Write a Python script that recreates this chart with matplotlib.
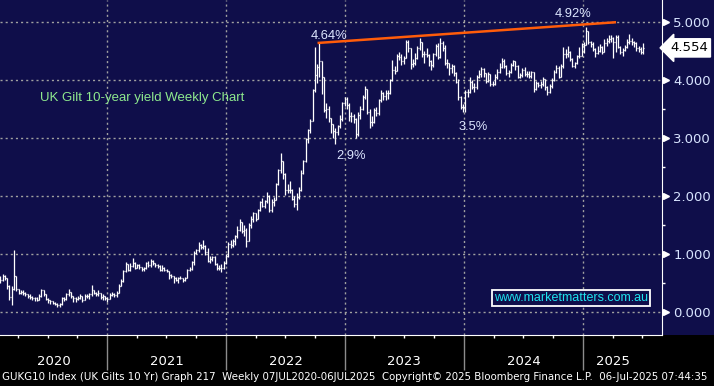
import numpy as np
import pandas as pd
import matplotlib
matplotlib.use('Agg')
import matplotlib.pyplot as plt
import matplotlib.dates as mdates
import matplotlib.transforms as mtransforms
from matplotlib.collections import LineCollection
from matplotlib.patches import Rectangle

# GUKG10 weekly bars (close / high / low), first bar week ending 07-Feb-2020
c20 = [0.55,0.62,0.58,0.45, 0.25,0.40,0.62,0.40, 0.33,0.35,0.32,0.30, 0.27,0.25,0.24,0.23,0.21,
       0.28,0.37,0.30,0.22, 0.20,0.18,0.15,0.14,0.12, 0.13,0.24,0.22,0.31, 0.35,0.28,0.24,0.22,
       0.24,0.27,0.20,0.28,0.27, 0.30,0.38,0.33,0.30, 0.33,0.26,0.27,0.24]
h20 = [0.62,0.66,0.64,0.58, 0.46,0.45,1.07,0.62, 0.40,0.38,0.37,0.34, 0.31,0.30,0.28,0.26,0.25,
       0.31,0.40,0.37,0.30, 0.23,0.21,0.19,0.17,0.15, 0.16,0.26,0.26,0.33, 0.40,0.34,0.28,0.25,
       0.27,0.30,0.27,0.31,0.30, 0.33,0.47,0.38,0.34, 0.37,0.33,0.30,0.28]
l20 = [0.50,0.54,0.55,0.40, 0.20,0.12,0.38,0.36, 0.30,0.30,0.29,0.27, 0.24,0.22,0.21,0.19,0.18,
       0.20,0.26,0.27,0.20, 0.16,0.14,0.13,0.11,0.09, 0.08,0.12,0.19,0.21, 0.28,0.24,0.17,0.17,
       0.20,0.22,0.17,0.20,0.24, 0.22,0.28,0.30,0.27, 0.28,0.22,0.21,0.20]

c21 = [0.22,0.29,0.30,0.29,0.33, 0.45,0.53,0.71,0.82, 0.73,0.79,0.85,0.76, 0.80,0.77,0.74,0.75,0.84,
       0.80,0.88,0.84,0.80, 0.79,0.73,0.75,0.72, 0.70,0.63,0.62,0.58,0.55, 0.58,0.58,0.55,0.58,
       0.72,0.74,0.86,1.02, 1.06,1.15,1.12,1.14,1.03, 0.88,0.91,0.95,0.82, 0.76,0.75,0.76,0.85,0.97]
h21 = [0.26,0.33,0.35,0.33,0.36, 0.48,0.57,0.72,0.86, 0.83,0.84,0.93,0.86, 0.82,0.82,0.77,0.78,0.86,
       0.87,0.91,0.90,0.85, 0.83,0.80,0.81,0.77, 0.74,0.71,0.66,0.62,0.60, 0.60,0.62,0.59,0.60,
       0.74,0.77,0.88,1.05, 1.09,1.20,1.17,1.24,1.15, 1.10,0.97,0.97,0.96, 0.84,0.80,0.82,0.88,0.99]
l21 = [0.17,0.22,0.27,0.25,0.26, 0.33,0.44,0.52,0.68, 0.70,0.70,0.78,0.74, 0.75,0.74,0.71,0.70,0.74,
       0.78,0.78,0.80,0.77, 0.75,0.71,0.70,0.70, 0.68,0.57,0.59,0.50,0.54, 0.50,0.56,0.51,0.53,
       0.58,0.70,0.72,0.80, 1.00,1.04,1.08,1.08,0.98, 0.86,0.85,0.87,0.80, 0.73,0.72,0.68,0.74,0.83]

c22 = [1.17,1.15,1.22,1.30, 1.41,1.55,1.39,1.41, 1.23,1.50,1.61,1.70, 1.60,1.76,1.89,1.83,1.91,
       2.00,1.75,1.90,1.93, 2.20,2.45,2.60,2.37, 2.10,2.10,2.10,1.95,1.86, 1.98,2.10,2.40,2.60,
       2.98,3.13,3.30,3.82,4.09, 4.23,4.33,4.05,3.48, 3.50,3.35,3.24,3.12, 3.10,3.20,3.33,3.60,3.67]
h22 = [1.20,1.24,1.26,1.32, 1.48,1.60,1.55,1.50, 1.45,1.54,1.65,1.72, 1.68,1.78,1.92,1.96,1.93,
       2.07,2.02,1.94,1.98, 2.23,2.47,2.74,2.55, 2.40,2.20,2.25,2.12,2.00, 2.05,2.15,2.45,2.62,
       3.00,3.16,3.33,3.84,4.57, 4.28,4.64,4.20,3.95, 3.60,3.55,3.35,3.20, 3.18,3.22,3.40,3.62,3.70]
l22 = [0.95,1.10,1.12,1.16, 1.28,1.40,1.36,1.30, 1.12,1.26,1.45,1.55, 1.57,1.60,1.74,1.80,1.79,
       1.88,1.72,1.73,1.82, 1.98,2.18,2.40,2.30, 2.02,2.05,2.05,1.93,1.80, 1.76,1.95,2.08,2.38,
       2.58,2.92,3.08,3.30,3.80, 3.95,4.05,3.75,3.45, 3.35,3.28,3.08,3.00, 2.90,3.05,3.17,3.30,3.55]

c23 = [3.56,3.37,3.38,3.32, 3.07,3.40,3.50,3.70, 3.85,3.45,3.28,3.28,3.49, 3.43,3.65,3.78,3.72,
       3.78,3.78,4.00,4.18, 4.16,4.42,4.39,4.32,4.38, 4.66,4.55,4.28,4.29, 4.38,4.55,4.66,4.44,
       4.45,4.43,4.32,4.25,4.44, 4.58,4.39,4.64,4.56, 4.29,4.30,4.20,4.24, 4.12,3.96,3.70,3.53,3.54]
h23 = [3.70,3.60,3.45,3.42, 3.35,3.45,3.55,3.74, 3.90,3.83,3.50,3.38,3.52, 3.53,3.67,3.82,3.80,
       3.82,3.82,4.02,4.35, 4.24,4.45,4.48,4.45,4.42, 4.69,4.69,4.55,4.36, 4.46,4.58,4.72,4.62,
       4.50,4.55,4.45,4.35,4.47, 4.62,4.63,4.72,4.67, 4.60,4.36,4.30,4.28, 4.25,4.14,4.02,3.72,3.58]
l23 = [3.50,3.30,3.27,3.25, 3.00,3.03,3.33,3.48, 3.68,3.42,3.17,3.20,3.26, 3.38,3.40,3.62,3.66,
       3.65,3.68,3.75,3.98, 4.10,4.15,4.35,4.25,4.27, 4.38,4.48,4.19,4.22, 4.25,4.36,4.52,4.40,
       4.30,4.40,4.24,4.18,4.23, 4.42,4.36,4.38,4.50, 4.25,4.20,4.08,4.12, 4.07,3.94,3.65,3.50,3.45]

c24 = [3.79,3.79,3.97,3.88, 3.88,4.05,4.11,4.19, 4.12,3.98,4.10,3.93,3.93, 4.06,4.14,4.23,4.32,
       4.24,4.12,4.14,4.26,4.32, 4.24,4.06,4.08,4.17, 4.11,4.10,4.07,4.13, 3.84,3.94,3.92,3.93,4.02,
       3.88,3.80,3.90,4.00, 4.14,4.21,4.06,4.24, 4.45,4.45,4.48,4.37,4.24, 4.29,4.41,4.41,4.62]
h24 = [3.82,3.85,4.05,4.00, 3.95,4.08,4.18,4.22, 4.20,4.12,4.13,4.10,3.98, 4.10,4.19,4.29,4.38,
       4.37,4.25,4.17,4.30,4.35, 4.33,4.25,4.12,4.20, 4.22,4.16,4.15,4.16, 4.14,3.99,3.96,3.98,4.05,
       4.01,3.90,3.93,4.03, 4.17,4.26,4.24,4.27, 4.57,4.53,4.58,4.50,4.38, 4.31,4.43,4.57,4.64]
l24 = [3.45,3.70,3.78,3.85, 3.80,3.85,4.03,4.05, 4.05,3.95,3.97,3.90,3.90, 3.92,4.02,4.12,4.20,
       4.20,4.08,4.05,4.12,4.24, 4.17,4.03,4.04,4.06, 4.07,4.05,4.03,4.04, 3.80,3.82,3.88,3.86,3.90,
       3.83,3.74,3.78,3.86, 3.98,4.12,4.03,4.05, 4.20,4.38,4.40,4.33,4.22, 4.21,4.27,4.38,4.45]

c25 = [4.60,4.84,4.66,4.62,4.54, 4.47,4.50,4.57,4.48, 4.64,4.67,4.71,4.72, 4.66,4.75,4.57,4.48,
       4.52,4.57,4.65,4.68,4.65, 4.64,4.55,4.54,4.49, 4.554]
h25 = [4.66,4.92,4.85,4.67,4.66, 4.55,4.58,4.62,4.58, 4.71,4.72,4.78,4.77, 4.74,4.78,4.78,4.58,
       4.55,4.60,4.70,4.79,4.72, 4.67,4.66,4.58,4.57, 4.64]
l25 = [4.46,4.60,4.62,4.57,4.50, 4.40,4.44,4.48,4.45, 4.48,4.58,4.63,4.65, 4.38,4.48,4.55,4.44,
       4.42,4.50,4.55,4.62,4.60, 4.57,4.50,4.48,4.45, 4.44]

yticks = [0, 1, 2, 3, 4, 5]
years = ['2020', '2021', '2022', '2023', '2024', '2025']
trend_dates = ['2022-10-12', '2025-04-08']
trend_vals = [4.64, 4.995]
notes = [('4.64%', '2022-11-13', 4.76), ('4.92%', '2024-11-30', 5.14),
         ('2.9%', '2023-01-19', 2.69), ('3.5%', '2024-01-30', 3.19)]
last_val = 4.554

navy = '#0f0e4a'

close = np.array(c20 + c21 + c22 + c23 + c24 + c25)
high = np.array(h20 + h21 + h22 + h23 + h24 + h25)
low = np.array(l20 + l21 + l22 + l23 + l24 + l25)
opn = np.r_[0.52, close[:-1]]
high = np.maximum.reduce([high, opn, close])
low = np.minimum.reduce([low, opn, close])
dates = pd.date_range('2020-02-07', periods=len(close), freq='W-FRI')
x = mdates.date2num(dates)

fig = plt.figure(figsize=(7.14, 3.86), dpi=100, facecolor=navy)
fig.patches.append(Rectangle((0, 0), 1, 51/386, transform=fig.transFigure,
                             facecolor='black', edgecolor='none', zorder=-1))
ax = fig.add_axes([0, 51/386, 662/714, 335/386])
ax.set_facecolor(navy)

segs = []
for xi, o, h, l, c in zip(x, opn, high, low, close):
    segs.append([(xi, l), (xi, h)])
    segs.append([(xi - 3, o), (xi, o)])
    segs.append([(xi, c), (xi + 3, c)])
ax.add_collection(LineCollection(segs, colors='white', linewidths=0.9, zorder=3))

ax.plot(pd.to_datetime(trend_dates), trend_vals, color='#ff5c0a', lw=1.8, zorder=4)

for txt, d, v in notes:
    ax.text(pd.Timestamp(d), v, txt, color='#dde6ff', fontsize=9.3,
            family=['Liberation Sans', 'DejaVu Sans'], ha='center', va='center', zorder=5)

ax.text(0.2145, 0.707, 'UK Gilt 10-year yield Weekly Chart', transform=ax.transAxes,
        color='#8ee88e', fontsize=9.5, family=['Liberation Sans', 'DejaVu Sans'],
        ha='center', va='center')
ax.text(0.8625, 0.110, 'www.marketmatters.com.au', transform=ax.transAxes,
        color='#1fe3ee', fontsize=9, family=['Liberation Sans', 'DejaVu Sans'],
        ha='center', va='center', zorder=6,
        bbox=dict(boxstyle='square,pad=0.15', fc=navy, ec='white', lw=1.3))

ax.set_xlim(pd.Timestamp('2020-02-06'), pd.Timestamp('2025-08-31'))
ax.set_ylim(-0.40, 5.38)

year_starts = pd.to_datetime([f'{y}-01-01' for y in years[1:]])
ax.set_xticks(year_starts)
ax.set_xticklabels([])
ax.xaxis.set_minor_locator(mdates.MonthLocator(bymonth=[1, 4, 7, 10]))
ax.tick_params(axis='x', which='major', length=25, width=1, color='#8c8c8c', direction='out')
ax.tick_params(axis='x', which='minor', length=2.5, width=1, color='white', direction='out')

ax.yaxis.tick_right()
ax.set_yticks(yticks)
ax.set_yticklabels([f'{v:.3f}' for v in yticks])
ax.set_yticks([v + 0.5 for v in yticks[:-1]], minor=True)
ax.tick_params(axis='y', which='major', length=0, pad=8, labelsize=9.5, labelcolor='#d8e4ff')
ax.tick_params(axis='y', which='minor', length=2.5, width=1, color='white', direction='out')

ax.grid(True, which='major', color='#a0a0a0', lw=1.0, linestyle=(0, (1.5, 2.2)))
for s in ['top', 'left']:
    ax.spines[s].set_visible(False)
ax.spines['right'].set_color('white')
ax.spines['bottom'].set_color('white')

ytrans = mtransforms.blended_transform_factory(ax.transAxes, ax.transData)
ax.plot([1.006] * len(yticks), yticks, transform=ytrans, marker='>', ms=5,
        color='white', ls='none', clip_on=False)
ax.text(1.012, last_val, '4.554', transform=ytrans, color='black', fontsize=9.5,
        ha='left', va='center', zorder=7,
        bbox=dict(boxstyle='larrow,pad=0.2', fc='white', ec='white'))

xtrans = mtransforms.blended_transform_factory(ax.transData, ax.transAxes)
left_edge = pd.Timestamp('2020-02-06')
label_pos = [left_edge + (year_starts[0] - left_edge) / 2]
label_pos += [pd.Timestamp(f'{y}-07-02') for y in years[1:-1]]
label_pos += [pd.Timestamp('2025-04-01')]
for d, y in zip(label_pos, years):
    ax.text(d, -0.078, y, transform=xtrans, color='white', fontsize=9.5,
            ha='center', va='center')

foot = fig.text(0.003, 0.024,
                'GUKG10 Index (UK Gilts 10 Yr) Graph 217  Weekly 07JUL2020-06JUL2025  '
                'Copyright\u00a9 2025 Bloomberg Finance L.P.  06-Jul-2025 07:44:35',
                color='white', fontsize=8, ha='left', va='center')
# shrink the footer so it spans the width like the terminal caption does
fig.canvas.draw()
w = foot.get_window_extent().width
foot.set_fontsize(8 * 708 / w)

fig.savefig('out.png', dpi=100, facecolor=fig.get_facecolor())
